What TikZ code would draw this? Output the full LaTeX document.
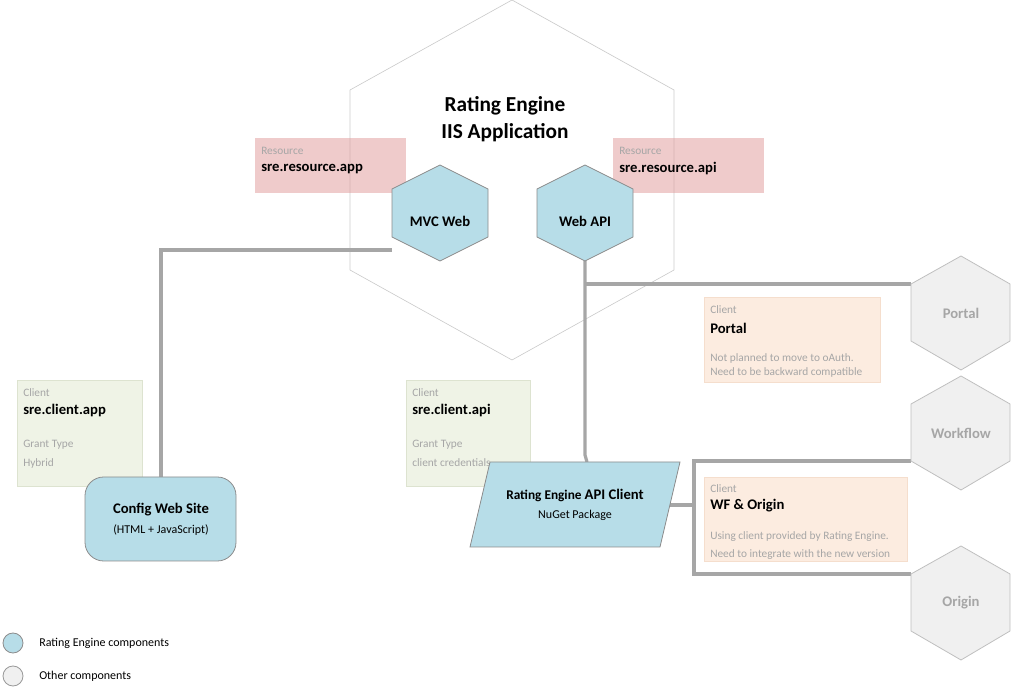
\documentclass[tikz,border=0pt]{standalone}
\usepackage{fontspec}
\setmainfont{Carlito}
\begin{document}
\begin{tikzpicture}[x=0.75pt,y=-0.75pt,
  conn/.style={draw=black!35,line width=2.4pt},
  refill/.style={fill={rgb,255:red,183;green,221;blue,232},draw=black!45,line width=0.6pt},
  other/.style={fill=black!6,draw=black!25,line width=0.6pt},
  res/.style={fill={rgb,255:red,225;green,160;blue,160},fill opacity=0.55,draw=none},
  cli/.style={fill={rgb,255:red,236;green,241;blue,226},draw={rgb,255:red,221;green,227;blue,208},line width=0.6pt,fill opacity=0.85},
  pcl/.style={fill={rgb,255:red,252;green,236;blue,224},draw={rgb,255:red,245;green,222;blue,205},line width=0.6pt},
  small/.style={font=\fontsize{8.5}{10}\selectfont,text=black!35,anchor=west,inner sep=0},
  big/.style={font=\fontsize{11}{13}\selectfont\bfseries,anchor=west,inner sep=0},
  lbl/.style={font=\fontsize{11}{13}\selectfont\bfseries,inner sep=0}]
\useasboundingbox (0,0) rectangle (1011,691);
% big hexagon
\draw[black!20,line width=0.5pt] (512,0) -- (674,90) -- (674,270) -- (512,360) -- (350,270) -- (350,90) -- cycle;
\node[font=\fontsize{16}{20}\selectfont\bfseries,align=center] (iis) at (505,119) {Rating Engine\\IIS Application};
% connectors
\coordinate (m1) at (392,250); \coordinate (m2) at (161,250); \coordinate (m3) at (161,478);
\draw[conn] (m1) -- (m2) -- (m3);
\coordinate (w1) at (585,261); \coordinate (w2) at (585,284); \coordinate (w3) at (585,455); \coordinate (w4) at (587,462);
\coordinate (p1) at (911,284);
\draw[conn] (w1) -- (w3) -- (w4);
\draw[conn] (w2) -- (p1);
\coordinate (a1) at (670,505); \coordinate (a2) at (694,505); \coordinate (a3) at (694,461); \coordinate (a4) at (694,574);
\coordinate (f1) at (911,461); \coordinate (o1) at (911,574);
\draw[conn] (a1) -- (a2);
\draw[conn] (f1) -- (a3) -- (a4) -- (o1);
% resource boxes
\fill[res] (255,138) rectangle (406,193);
\fill[res] (613,138) rectangle (764,193);
% RE hexagons
\draw[refill] (440,165) -- (488,189) -- (488,237) -- (440,261) -- (392,237) -- (392,189) -- cycle;
\node[lbl] (mvc) at (440,221) {MVC Web};
\draw[refill] (585,165) -- (633,189) -- (633,237) -- (585,261) -- (537,237) -- (537,189) -- cycle;
\node[lbl] (api) at (585,221) {Web API};
\node[small] (r1) at (261,151) {Resource};
\node[big] (r1b) at (261,169) {sre.resource.app};
\node[small] (r2) at (619,151) {Resource};
\node[big] (r2b) at (619,169) {sre.resource.api};
% other hexagons
\foreach \n/\cy/\t in {portal/313/Portal,workflow/433/Workflow,origin/603/Origin}{
  \draw[other] (961,\cy-57) -- (1010,\cy-29) -- (1010,\cy+28) -- (961,\cy+57) -- (911,\cy+28) -- (911,\cy-29) -- cycle;
  \node[lbl,text=black!35] (\n) at (961,\cy) {\t};
}
% client boxes
\draw[cli] (17,380) rectangle (142,486);
\node[small] at (23,393) {Client};
\node[big] at (23,411) {sre.client.app};
\node[small] at (23,445) {Grant Type};
\node[small] at (23,463) {Hybrid};
\draw[cli] (406,380) rectangle (530,486);
\node[small] at (412,393) {Client};
\node[big] at (412,411) {sre.client.api};
\node[small] at (412,445) {Grant Type};
\node[small] at (412,463) {client credentials};
\draw[pcl] (704,297) rectangle (880,382);
\node[small] at (710,310) {Client};
\node[big] at (710,328) {Portal};
\node[small] at (710,358) {Not planned to move to oAuth.};
\node[small] at (710,372) {Need to be backward compatible};
\draw[pcl] (704,477) rectangle (907,561);
\node[small] at (710,489) {Client};
\node[big] at (710,506) {WF \& Origin};
\node[small] at (710,537) {Using client provided by Rating Engine.};
\node[small] at (710,555) {Need to integrate with the new version};
% config web site
\draw[refill,rounded corners=14pt] (85,477) rectangle (236,561);
\node[lbl] (cfg) at (161,510) {Config Web Site};
\node[font=\fontsize{9}{10}\selectfont,inner sep=0] (cfg2) at (161,530) {(HTML + JavaScript)};
% api client
\draw[refill] (490,462) -- (680,462) -- (660,547) -- (470,547) -- cycle;
\node[font=\fontsize{10}{12}\selectfont\bfseries,inner sep=0] (apic) at (575,495) {Rating Engine \fontsize{11}{13}\selectfont API Client};
\node[font=\fontsize{9}{10}\selectfont,inner sep=0] (apic2) at (575,515) {NuGet Package};
% legend
\draw[refill] (13,643) circle (10);
\node[font=\fontsize{9}{10}\selectfont,anchor=west,inner sep=0] at (39,643) {Rating Engine components};
\draw[other,draw=black!40] (13,676) circle (10);
\node[font=\fontsize{9}{10}\selectfont,anchor=west,inner sep=0] at (39,676) {Other components};
\end{tikzpicture}
\end{document}
